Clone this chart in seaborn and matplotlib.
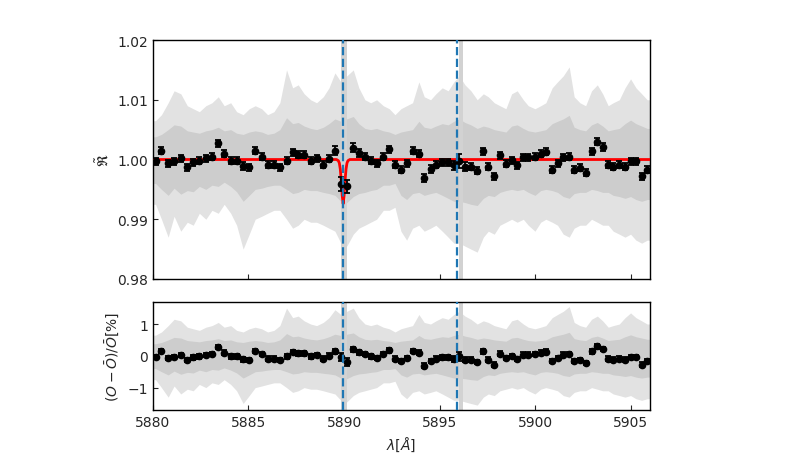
import numpy as np
import matplotlib
matplotlib.use("Agg")
import matplotlib.pyplot as plt
import seaborn as sns

# binned transmission points (black)
wavelength = [5880.14, 5880.45, 5880.80, 5881.11, 5881.46, 5881.80, 5882.11, 5882.43, 5882.77, 5883.09,
              5883.42, 5883.73, 5884.07, 5884.38, 5884.72, 5885.04, 5885.35, 5885.69, 5886.00, 5886.33,
              5886.64, 5886.99, 5887.31, 5887.60, 5887.91, 5888.25, 5888.56, 5888.91, 5889.21, 5889.52,
              5889.83, 5890.14, 5890.48, 5890.77, 5891.09, 5891.39, 5891.70, 5892.05, 5892.36, 5892.66,
              5892.97, 5893.27, 5893.58, 5893.91, 5894.19, 5894.52, 5894.80, 5895.13, 5895.44, 5895.74,
              5896.02, 5896.32, 5896.63, 5896.96, 5897.28, 5897.54, 5897.85, 5898.15, 5898.46, 5898.76,
              5899.05, 5899.37, 5899.63, 5899.98, 5900.28, 5900.55, 5900.88, 5901.16, 5901.46, 5901.77,
              5902.03, 5902.33, 5902.63, 5902.94, 5903.24, 5903.52, 5903.81, 5904.07, 5904.39, 5904.69,
              5904.98, 5905.26, 5905.56, 5905.85]
ratio = [0.9997, 1.0015, 0.9994, 0.9997, 1.0002, 0.9987, 0.9995, 0.9998, 1.0002, 1.0005,
         1.0027, 1.0010, 0.9998, 0.9998, 0.9989, 0.9987, 1.0015, 1.0005, 0.9991, 0.9991,
         0.9987, 0.9998, 1.0012, 1.0008, 1.0008, 0.9998, 1.0002, 0.9991, 1.0001, 1.0015,
         0.9959, 0.9955, 1.0020, 1.0011, 1.0005, 0.9998, 0.9994, 1.0005, 1.0017, 0.9991,
         0.9983, 0.9994, 1.0015, 1.0010, 0.9969, 0.9984, 0.9991, 0.9995, 0.9995, 0.9990,
         0.9998, 0.9988, 0.9988, 0.9981, 1.0014, 0.9988, 0.9972, 1.0007, 0.9993, 0.9999,
         0.9990, 1.0004, 1.0004, 1.0005, 1.0010, 1.0013, 0.9983, 0.9994, 1.0004, 1.0005,
         0.9983, 0.9986, 0.9978, 1.0014, 1.0030, 1.0021, 0.9991, 0.9988, 0.9991, 0.9988,
         0.9997, 0.9997, 0.9972, 0.9983]
ratio_err = [0.0006, 0.0006, 0.0006, 0.0006, 0.0006, 0.0006, 0.0006, 0.0006, 0.0006, 0.0006,
             0.0006, 0.0006, 0.0006, 0.0006, 0.0006, 0.0006, 0.0006, 0.0006, 0.0006, 0.0006,
             0.0006, 0.0006, 0.0006, 0.0006, 0.0006, 0.0006, 0.0006, 0.0006, 0.0006, 0.0007,
             0.0011, 0.0011, 0.0007, 0.0006, 0.0006, 0.0006, 0.0006, 0.0006, 0.0006, 0.0006,
             0.0006, 0.0006, 0.0006, 0.0006, 0.0006, 0.0006, 0.0006, 0.0006, 0.0006, 0.0007,
             0.0012, 0.0007, 0.0006, 0.0006, 0.0006, 0.0006, 0.0006, 0.0006, 0.0006, 0.0006,
             0.0006, 0.0006, 0.0006, 0.0006, 0.0006, 0.0006, 0.0006, 0.0006, 0.0006, 0.0006,
             0.0006, 0.0006, 0.0006, 0.0006, 0.0006, 0.0006, 0.0006, 0.0006, 0.0006, 0.0006,
             0.0006, 0.0006, 0.0006, 0.0006]

# residuals of the binned points, in percent
resid = [-0.03, 0.15, -0.06, -0.03, 0.02, -0.13, -0.05, -0.02, 0.02, 0.05,
         0.27, 0.10, -0.02, -0.02, -0.11, -0.13, 0.15, 0.05, -0.09, -0.09,
         -0.13, -0.02, 0.12, 0.08, 0.08, -0.02, 0.02, -0.09, 0.01, 0.15,
         -0.04, -0.19, 0.20, 0.11, 0.05, -0.02, -0.06, 0.05, 0.17, -0.09,
         -0.17, -0.06, 0.15, 0.10, -0.31, -0.16, -0.09, -0.05, -0.05, -0.10,
         -0.02, -0.12, -0.12, -0.19, 0.14, -0.12, -0.28, 0.07, -0.07, -0.01,
         -0.10, 0.04, 0.04, 0.05, 0.10, 0.13, -0.17, -0.06, 0.04, 0.05,
         -0.17, -0.14, -0.22, 0.14, 0.30, 0.21, -0.09, -0.12, -0.09, -0.12,
         -0.03, -0.03, -0.28, -0.17]
resid_err = [0.07, 0.07, 0.07, 0.07, 0.07, 0.07, 0.07, 0.07, 0.07, 0.07,
             0.07, 0.07, 0.07, 0.07, 0.07, 0.07, 0.07, 0.07, 0.07, 0.07,
             0.07, 0.07, 0.07, 0.07, 0.07, 0.07, 0.07, 0.07, 0.07, 0.08,
             0.12, 0.12, 0.08, 0.07, 0.07, 0.07, 0.07, 0.07, 0.07, 0.07,
             0.07, 0.07, 0.07, 0.07, 0.07, 0.07, 0.07, 0.07, 0.07, 0.08,
             0.13, 0.08, 0.07, 0.07, 0.07, 0.07, 0.07, 0.07, 0.07, 0.07,
             0.07, 0.07, 0.07, 0.07, 0.07, 0.07, 0.07, 0.07, 0.07, 0.07,
             0.07, 0.07, 0.07, 0.07, 0.07, 0.07, 0.07, 0.07, 0.07, 0.07,
             0.07, 0.07, 0.07, 0.07]

# spread of the unbinned spectrum (grey), outer tips and dense core, per bin
gray_hi = [1.0065, 1.0075, 1.0095, 1.0115, 1.0110, 1.0090, 1.0085, 1.0080, 1.0090, 1.0095,
           1.0105, 1.0090, 1.0095, 1.0080, 1.0075, 1.0085, 1.0090, 1.0085, 1.0075, 1.0080,
           1.0095, 1.0150, 1.0120, 1.0125, 1.0110, 1.0100, 1.0095, 1.0105, 1.0120, 1.0145,
           1.0130, 1.0140, 1.0150, 1.0120, 1.0100, 1.0095, 1.0100, 1.0090, 1.0085, 1.0075,
           1.0085, 1.0090, 1.0095, 1.0130, 1.0105, 1.0100, 1.0110, 1.0120, 1.0115, 1.0130,
           1.0140, 1.0125, 1.0115, 1.0100, 1.0110, 1.0105, 1.0095, 1.0090, 1.0085, 1.0110,
           1.0115, 1.0100, 1.0090, 1.0085, 1.0090, 1.0095, 1.0120, 1.0130, 1.0140, 1.0155,
           1.0105, 1.0095, 1.0090, 1.0115, 1.0125, 1.0110, 1.0090, 1.0095, 1.0100, 1.0120,
           1.0135, 1.0120, 1.0110, 1.0100]
gray_lo = [0.9925, 0.9900, 0.9870, 0.9905, 0.9880, 0.9895, 0.9890, 0.9910, 0.9900, 0.9915,
           0.9910, 0.9925, 0.9910, 0.9890, 0.9850, 0.9875, 0.9900, 0.9905, 0.9910, 0.9915,
           0.9915, 0.9900, 0.9885, 0.9890, 0.9900, 0.9895, 0.9895, 0.9890, 0.9885, 0.9880,
           0.9860, 0.9855, 0.9875, 0.9885, 0.9890, 0.9895, 0.9900, 0.9915, 0.9915, 0.9920,
           0.9880, 0.9865, 0.9885, 0.9890, 0.9880, 0.9885, 0.9890, 0.9880, 0.9870, 0.9860,
           0.9860, 0.9855, 0.9850, 0.9845, 0.9870, 0.9880, 0.9875, 0.9890, 0.9895, 0.9900,
           0.9895, 0.9900, 0.9890, 0.9880, 0.9895, 0.9900, 0.9895, 0.9890, 0.9875, 0.9870,
           0.9885, 0.9890, 0.9890, 0.9900, 0.9895, 0.9890, 0.9890, 0.9880, 0.9875, 0.9870,
           0.9875, 0.9865, 0.9860, 0.9865]
core_hi = [1.0038, 1.0042, 1.0050, 1.0058, 1.0056, 1.0048, 1.0046, 1.0044, 1.0048, 1.0050,
           1.0054, 1.0048, 1.0050, 1.0044, 1.0042, 1.0046, 1.0048, 1.0046, 1.0042, 1.0044,
           1.0050, 1.0070, 1.0060, 1.0062, 1.0056, 1.0052, 1.0050, 1.0054, 1.0060, 1.0068,
           1.0064, 1.0068, 1.0072, 1.0060, 1.0052, 1.0050, 1.0052, 1.0048, 1.0046, 1.0042,
           1.0046, 1.0048, 1.0050, 1.0064, 1.0054, 1.0052, 1.0056, 1.0060, 1.0058, 1.0064,
           1.0068, 1.0062, 1.0058, 1.0052, 1.0056, 1.0054, 1.0050, 1.0048, 1.0046, 1.0056,
           1.0058, 1.0052, 1.0048, 1.0046, 1.0048, 1.0050, 1.0060, 1.0064, 1.0068, 1.0074,
           1.0054, 1.0050, 1.0048, 1.0058, 1.0062, 1.0056, 1.0048, 1.0050, 1.0052, 1.0060,
           1.0066, 1.0060, 1.0056, 1.0052]
core_lo = [0.9960, 0.9950, 0.9940, 0.9952, 0.9942, 0.9948, 0.9946, 0.9955, 0.9950, 0.9957,
           0.9955, 0.9962, 0.9955, 0.9946, 0.9930, 0.9940, 0.9950, 0.9952, 0.9955, 0.9957,
           0.9957, 0.9950, 0.9943, 0.9945, 0.9950, 0.9948, 0.9948, 0.9945, 0.9943, 0.9940,
           0.9930, 0.9928, 0.9938, 0.9943, 0.9945, 0.9948, 0.9950, 0.9957, 0.9957, 0.9960,
           0.9940, 0.9933, 0.9943, 0.9945, 0.9940, 0.9943, 0.9945, 0.9940, 0.9935, 0.9930,
           0.9930, 0.9928, 0.9925, 0.9923, 0.9935, 0.9940, 0.9938, 0.9945, 0.9948, 0.9950,
           0.9948, 0.9950, 0.9945, 0.9940, 0.9948, 0.9950, 0.9948, 0.9945, 0.9938, 0.9935,
           0.9943, 0.9945, 0.9945, 0.9950, 0.9948, 0.9945, 0.9945, 0.9940, 0.9938, 0.9935,
           0.9938, 0.9933, 0.9930, 0.9933]

# best-fit model (red)
model_wl = [5880.0, 5889.60, 5889.70, 5889.75, 5889.80, 5889.85, 5889.90, 5889.95,
            5890.00, 5890.05, 5890.10, 5890.15, 5890.20, 5890.30, 5906.0]
model_flux = [1.0, 1.0, 0.9998, 0.9994, 0.9984, 0.9965, 0.9940, 0.9926,
              0.9940, 0.9965, 0.9984, 0.9994, 0.9998, 1.0, 1.0]

# Na D lines and the very noisy line cores
na_lines = [5889.95, 5895.92]
noisy_cores = [(5889.86, 5890.16), (5896.02, 5896.24)]

x_range = (5880, 5906)

sns.set_style("ticks")
plt.rcParams["font.family"] = ["DejaVu Sans"]

fig = plt.figure(figsize=(7.88, 4.56), dpi=100)
ax1 = fig.add_axes([0.194, 0.386, 0.631, 0.524])
ax2 = fig.add_axes([0.194, 0.099, 0.631, 0.237], sharex=ax1)

wl = np.asarray(wavelength)
gx = np.concatenate([[x_range[0]], wl, [x_range[1]]])


def pad(v):
    v = np.asarray(v)
    return np.concatenate([[v[0]], v, [v[-1]]])


def draw_spread(ax, scale, offset):
    # grey cloud of the unbinned spectrum: light tips and a denser core
    lo, hi = (pad(gray_lo) - offset) * scale, (pad(gray_hi) - offset) * scale
    clo, chi = (pad(core_lo) - offset) * scale, (pad(core_hi) - offset) * scale
    ax.fill_between(gx, lo, hi, color="#e2e2e2", lw=0, zorder=1)
    ax.fill_between(gx, clo, chi, color="#cdcdcd", lw=0, zorder=1)
    for a, b in noisy_cores:
        ax.axvspan(a, b, color="#d2d2d2", lw=0, zorder=1)


# top panel
draw_spread(ax1, 1.0, 0.0)
sns.lineplot(x=model_wl, y=model_flux, color="red", lw=2, sort=False, ax=ax1, zorder=3)
ax1.errorbar(wavelength, ratio, yerr=ratio_err, fmt="o", color="black", ms=4.5,
             capsize=2.5, elinewidth=1.3, capthick=1.3, zorder=4)
for w in na_lines:
    ax1.axvline(w, color="#1f77b4", ls="--", lw=1.6, zorder=5)
ax1.set_ylim(0.98, 1.02)
ax1.set_yticks([0.98, 0.99, 1.00, 1.01, 1.02])
ax1.set_ylabel(r"$\tilde{\mathfrak{R}}$", fontsize=10)
ax1.tick_params(direction="in", labelbottom=False)

# bottom panel: residuals in percent
draw_spread(ax2, 100.0, 1.0)
ax2.errorbar(wavelength, resid, yerr=resid_err, fmt="o", color="black", ms=4.5,
             capsize=2.5, elinewidth=1.3, capthick=1.3, zorder=4)
for w in na_lines:
    ax2.axvline(w, color="#1f77b4", ls="--", lw=1.6, zorder=5)
ax2.set_ylim(-1.7, 1.7)
ax2.set_yticks([-1, 0, 1])
ax2.set_xlim(*x_range)
ax2.set_xticks([5880, 5885, 5890, 5895, 5900, 5905])
ax2.set_ylabel(r"$(O-\bar{O})/\bar{O}[\%]$", fontsize=10)
ax2.set_xlabel(r"$\lambda[\AA]$", fontsize=10)
ax2.tick_params(direction="in")

for ax in (ax1, ax2):
    for s in ax.spines.values():
        s.set_visible(True)
        s.set_linewidth(1.0)
        s.set_color("black")

fig.savefig("out.png", dpi=100)
